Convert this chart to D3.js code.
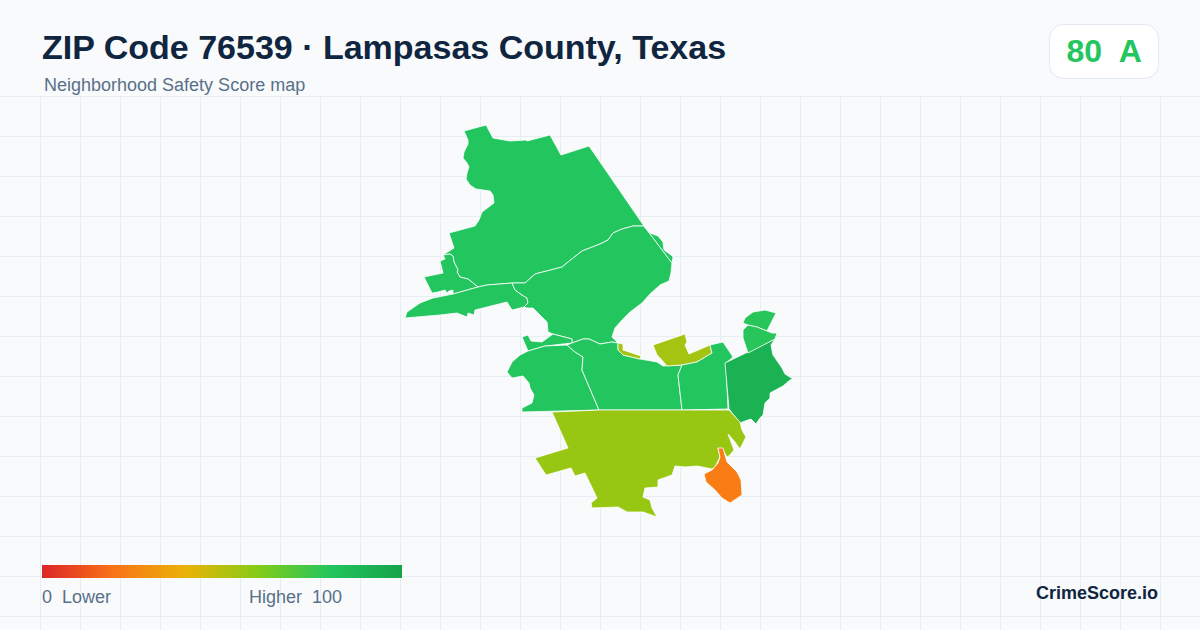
<!DOCTYPE html>
<html>
<head>
<meta charset="utf-8">
<title>ZIP Code 76539</title>
<script src="https://cdn.jsdelivr.net/npm/d3@7"></script>
<style>
html,body{margin:0;padding:0;background:#f8fafc;}
svg{display:block;font-family:"Liberation Sans",Arial,sans-serif;}
</style>
</head>
<body>
<svg id="chart" width="1200" height="630"></svg>
<script>
const ringNorth = [[64,21],[86,15],[93,28],[110,31],[126,30],[127,31],[150,25],[161,45],[189,36],[244,116],[233,116],[222,119],[213,123],[208,130],[200,134],[182,141],[168,152],[162,157],[135,164],[125,173],[112,173],[87,175],[78,177],[68,169],[60,167],[57,162],[58,160],[54,152],[53,146],[50,144],[43,145],[54,138],[49,123],[75,116],[79,110],[82,102],[94,93],[93,85],[90,81],[76,79],[70,75],[66,69],[67,63],[69,57],[67,53],[63,48],[64,42],[68,34],[68,30]];
const ringWest = [[43,145],[50,144],[53,146],[54,152],[58,160],[57,162],[60,167],[68,169],[78,177],[53,184],[53,180],[49,181],[47,183],[45,180],[38,182],[32,183],[24,167],[43,163],[40,151],[45,149]];
const ringSliver = [[78,177],[87,175],[112,173],[115,180],[122,185],[127,188],[128,193],[124,197],[112,200],[107,192],[75,200],[74,205],[68,203],[67,207],[57,203],[40,205],[5,208],[7,202],[20,193],[33,188],[53,184]];
const ringMiddle = [[112,173],[125,173],[135,164],[162,157],[168,152],[182,141],[200,134],[208,130],[213,123],[222,119],[233,116],[244,116],[272,153],[271,163],[269,171],[260,175],[250,184],[242,193],[230,202],[222,210],[215,218],[212,227],[218,233],[212,232],[200,234],[189,229],[183,229],[172,233],[172,229],[153,224],[148,222],[147,212],[133,198],[127,198],[124,197],[128,193],[127,188],[122,185],[115,180]];
const ringEdge = [[244,116],[250,123],[258,126],[263,132],[264,140],[271,145],[273,147],[272,153]];
const ringHook = [[122,227],[128,225],[131,231],[142,232],[153,224],[172,229],[172,233],[145,236],[128,241]];
const ringSouthWest = [[128,241],[145,236],[167,235],[175,242],[183,247],[182,260],[199,300],[122,302],[122,298],[132,293],[134,285],[130,278],[129,273],[123,266],[112,268],[107,262],[112,252],[120,245]];
const ringCentre = [[167,235],[172,233],[183,229],[189,229],[200,234],[212,232],[218,233],[218,240],[223,245],[240,249],[257,252],[263,256],[282,255],[278,265],[282,300],[199,300],[182,260],[183,247],[175,242]];
const ringStrip = [[218,233],[223,234],[223,240],[241,246],[240,249],[223,245],[218,240]];
const ringBlob = [[253,235],[285,224],[287,232],[285,235],[289,244],[310,235],[312,243],[297,252],[282,255],[267,256],[260,248],[257,245]];
const ringEast = [[282,255],[297,252],[312,243],[310,235],[323,232],[333,247],[326,253],[328,299],[282,300],[278,265]];
const ringDark = [[325,253],[375,229],[371,235],[373,245],[382,258],[385,264],[393,269],[390,270],[383,276],[370,283],[370,288],[365,293],[363,305],[360,308],[356,314],[351,309],[345,311],[340,313],[329,299]];
const ringCapA = [[343,213],[345,208],[353,202],[365,200],[376,203],[371,213],[367,221],[357,217],[348,215]];
const ringCapB = [[343,220],[348,215],[357,217],[367,221],[372,223],[377,223],[375,229],[348,243],[343,228]];
const ringSouth = [[152,302],[199,300],[282,300],[329,300],[340,312],[342,320],[346,327],[340,339],[335,332],[328,324],[334,340],[330,345],[327,347],[323,340],[318,338],[320,347],[315,357],[312,359],[297,356],[285,357],[275,356],[272,365],[258,370],[258,377],[245,378],[243,387],[250,390],[252,398],[257,407],[243,402],[227,402],[218,397],[192,398],[191,393],[197,388],[185,363],[175,366],[171,358],[146,365],[135,348],[168,338]];
const ringOrange = [[318,338],[323,338],[325,345],[327,352],[337,362],[341,370],[342,385],[330,393],[322,388],[315,380],[306,372],[304,364],[312,360],[318,353],[320,347]];

const tractRings = [ringNorth,ringWest,ringSliver,ringMiddle,ringEdge,ringHook,ringSouthWest,ringCentre,ringStrip,ringBlob,ringEast,ringDark,ringCapA,ringCapB,ringSouth,ringOrange];
const tractScores = [80,80,80,80,80,80,80,80,54,54,80,91,79,79,56,23];

const legendStops = [0,20,40,60,80,100];
const legendColors = ["#dc2626","#f97316","#eab308","#84cc16","#22c55e","#16a34a"];

const titleText = "ZIP Code 76539 · Lampasas County, Texas";
const subtitleText = "Neighborhood Safety Score map";
const badgeScore = 80;
const badgeGrade = "A";

const W = 1200, H = 630;
const svg = d3.select("#chart");
const color = d3.scaleLinear().domain(legendStops).range(legendColors);

// grid
const grid = svg.append("g").attr("stroke","#e6eef2").attr("stroke-width",1);
d3.range(40,W,40).forEach(function(x){
    grid.append("line").attr("x1",x+.5).attr("x2",x+.5).attr("y1",96).attr("y2",H);
});
d3.range(96,H,40).forEach(function(y){
    grid.append("line").attr("x1",0).attr("x2",W).attr("y1",y+.5).attr("y2",y+.5);
});

// map
const features = {type:"FeatureCollection",features:tractRings.map(function(r,i){
    return {type:"Feature",properties:{score:tractScores[i]},geometry:{type:"Polygon",coordinates:[r.concat([r[0]])]}};
})};
const projection = d3.geoIdentity().fitExtent([[405,125],[793,517]],features);
const path = d3.geoPath(projection);
svg.append("g").selectAll("path")
    .data(features.features)
    .join("path")
    .attr("d",path)
    .attr("fill",d=>color(d.properties.score))
    .attr("stroke","#ffffff")
    .attr("stroke-width",0.8)
    .attr("stroke-linejoin","round");

// header
svg.append("text").attr("x",42).attr("y",59).attr("font-size",34).attr("font-weight",700).attr("fill","#0f2540").text(titleText);
svg.append("text").attr("x",44).attr("y",91).attr("font-size",18).attr("fill","#5a7089").text(subtitleText);

svg.append("rect").attr("x",1049.5).attr("y",24.5).attr("width",109).attr("height",54).attr("rx",14)
    .attr("fill","#ffffff").attr("stroke","#e2e8f0");
svg.append("text").attr("x",1066.5).attr("y",62).attr("font-size",32).attr("font-weight",700).attr("fill",color(badgeScore))
    .style("white-space","pre").text(badgeScore+"  "+badgeGrade);

// legend
const grad = svg.append("defs").append("linearGradient").attr("id","legendGrad");
const legendX = d3.scaleLinear().domain([0,100]).range([42,402]);
grad.selectAll("stop").data(legendStops).join("stop")
    .attr("offset",d=>d+"%")
    .attr("stop-color",d=>color(d));
svg.append("rect").attr("x",legendX(0)).attr("y",565).attr("width",legendX(100)-legendX(0)).attr("height",13).attr("fill","url(#legendGrad)");
svg.append("text").attr("x",42).attr("y",603).attr("font-size",18).attr("fill","#5a7089").style("white-space","pre").text("0  Lower");
svg.append("text").attr("x",249).attr("y",603).attr("font-size",18).attr("fill","#5a7089").style("white-space","pre").text("Higher  100");

svg.append("text").attr("x",1158).attr("y",599).attr("text-anchor","end").attr("font-size",18).attr("font-weight",700).attr("fill","#0f2540").text("CrimeScore.io");
</script>
</body>
</html>
